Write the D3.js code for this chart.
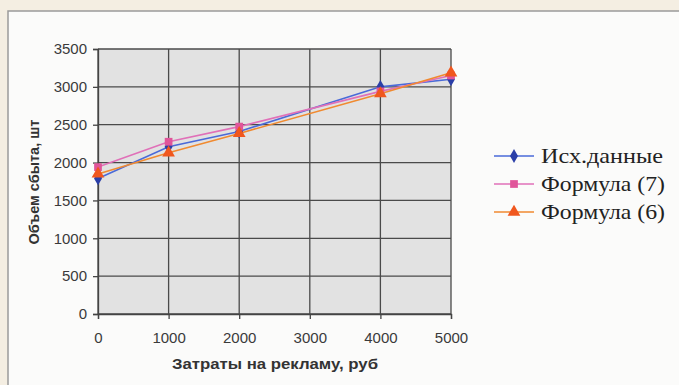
<!DOCTYPE html>
<html><head><meta charset="utf-8">
<script src="https://cdn.jsdelivr.net/npm/d3@7"></script>
<style>html,body{margin:0;padding:0;background:#f4eee2;}svg{display:block;}
.serif{font-family:'Liberation Serif','Tinos','Noto Serif','DejaVu Serif','FreeSerif','Times New Roman',Times,serif;}
.sans{font-family:'Liberation Sans',Arial,sans-serif;}</style>
</head><body>
<svg id="c" width="679" height="385"></svg>
<script>
const xValues = [0, 1000, 2000, 4000, 5000];
const seriesNames = ["Исх.данные", "Формула (7)", "Формула (6)"];
const srcData = [1790, 2210, 2410, 3000, 3100];
const formula7 = [1940, 2275, 2475, 2940, 3150];
const formula6 = [1850, 2130, 2385, 2910, 3185];
const xTicks = [0, 1000, 2000, 3000, 4000, 5000];
const yTicks = [0, 500, 1000, 1500, 2000, 2500, 3000, 3500];
const colors = ["#2b3fa8", "#e0559a", "#f0571e"];
const lineColors = ["#4a6ad8", "#e070b8", "#f08a30"];

const svg = d3.select("#c");
svg.append("rect").attr("x", 8).attr("y", 11).attr("width", 700).attr("height", 400)
  .attr("fill", "#fbfbfa").attr("stroke", "#9a9a9a").attr("stroke-width", 1.5);

const L = 98, R = 451, T = 49, B = 314;
const x = d3.scaleLinear().domain([0, 5000]).range([L, R]);
const y = d3.scaleLinear().domain([0, 3500]).range([B, T]);

svg.append("rect").attr("x", L).attr("y", T).attr("width", R - L).attr("height", B - T).attr("fill", "#e2e2e2");

const g = svg.append("g");
g.selectAll(".hg").data(yTicks).join("line")
  .attr("x1", L).attr("x2", R).attr("y1", d => y(d)).attr("y2", d => y(d))
  .attr("stroke", "#4a4a4a").attr("stroke-width", 1.3);
g.selectAll(".vg").data(xTicks).join("line")
  .attr("y1", T).attr("y2", B).attr("x1", d => x(d)).attr("x2", d => x(d))
  .attr("stroke", "#4a4a4a").attr("stroke-width", 1.3);

const yAxis = svg.append("g").attr("transform", `translate(${L},0)`)
  .call(d3.axisLeft(y).tickValues(yTicks).tickSize(5).tickPadding(6).tickFormat(d3.format("d")));
const xAxis = svg.append("g").attr("transform", `translate(0,${B})`)
  .call(d3.axisBottom(x).tickValues(xTicks).tickSize(5).tickPadding(13).tickFormat(d3.format("d")));
[yAxis, xAxis].forEach(a => {
  a.attr("font-family", null).attr("font-size", null);
  a.select(".domain").attr("stroke", "#444").attr("stroke-width", 1.3);
  a.selectAll(".tick line").attr("stroke", "#444").attr("stroke-width", 1.3);
  a.selectAll("text").attr("class", "sans").attr("font-size", 15).attr("fill", "#3a3a3a");
});

svg.append("text").attr("class", "sans").attr("x", 172).attr("y", 369)
  .attr("font-size", 14).attr("font-weight", "bold").attr("fill", "#333")
  .attr("textLength", 206).attr("lengthAdjust", "spacingAndGlyphs")
  .text("Затраты на рекламу, руб");
svg.append("text").attr("class", "sans").attr("transform", "translate(39,182) rotate(-90)").attr("text-anchor", "middle")
  .attr("font-size", 14.5).attr("font-weight", "bold").attr("fill", "#333")
  .text("Объем сбыта, шт");

const allSeries = [srcData, formula7, formula6];
const line = d3.line().x((d, i) => x(xValues[i])).y(d => y(d));
const sym = [d3.symbolDiamond, d3.symbolSquare, d3.symbolTriangle];
const symSize = [55, 60, 70];

allSeries.forEach((s, k) => {
  svg.append("path").datum(s).attr("d", line).attr("fill", "none")
    .attr("stroke", lineColors[k]).attr("stroke-width", 1.6);
});
allSeries.forEach((s, k) => {
  svg.selectAll(".m" + k).data(s).join("path")
    .attr("transform", (d, i) => `translate(${x(xValues[i])},${y(d)})`)
    .attr("d", d3.symbol().type(sym[k]).size(symSize[k]))
    .attr("fill", colors[k]);
});

const leg = svg.append("g");
const legW = [122, 124, 124];
seriesNames.forEach((n, k) => {
  const ly = 156 + k * 28;
  leg.append("line").attr("x1", 494).attr("x2", 534).attr("y1", ly).attr("y2", ly)
    .attr("stroke", lineColors[k]).attr("stroke-width", 1.6);
  leg.append("path").attr("transform", `translate(514,${ly})`)
    .attr("d", d3.symbol().type(sym[k]).size(symSize[k])).attr("fill", colors[k]);
  leg.append("text").attr("class", "serif").attr("x", 541).attr("y", ly + 7)
    .style("font-family", "'Liberation Serif','DejaVu Serif',serif")
    .attr("font-size", 21).attr("fill", "#222")
    .attr("textLength", legW[k]).attr("lengthAdjust", "spacingAndGlyphs")
    .text(n);
});
</script>
</body></html>
